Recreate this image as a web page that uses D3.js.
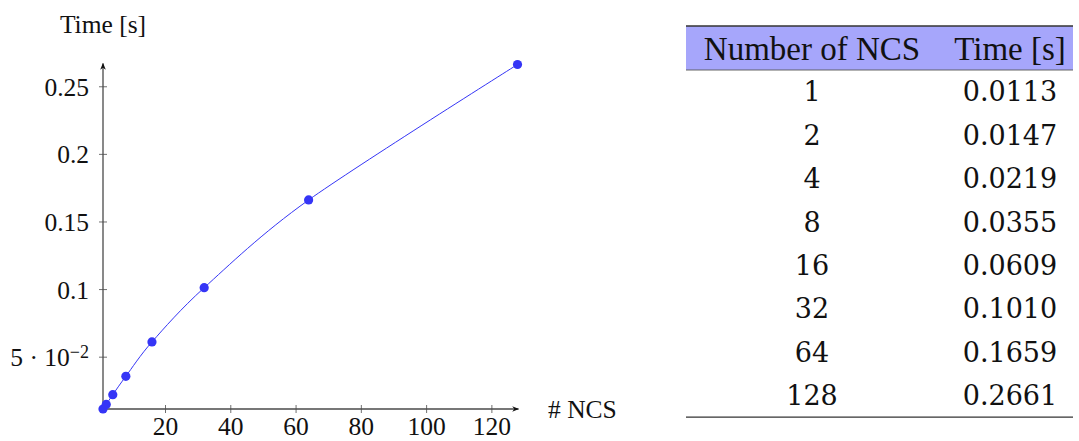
<!DOCTYPE html>
<html><head><meta charset="utf-8">
<script src="https://cdn.jsdelivr.net/npm/d3@7"></script>
<style>body{margin:0;background:#fff}svg{display:block}</style>
</head><body>
<svg id="c" width="1079" height="441"></svg>
<script>
const ncs = [1, 2, 4, 8, 16, 32, 64, 128];
const times = [0.0113, 0.0147, 0.0219, 0.0355, 0.0609, 0.1010, 0.1659, 0.2661];
const timeLabels = ["0.0113","0.0147","0.0219","0.0355","0.0609","0.1010","0.1659","0.2661"];
const xTicks = [20, 40, 60, 80, 100, 120];
const yTicks = [0.05, 0.1, 0.15, 0.2, 0.25];
const yTickLabels = ["5 · 10", "0.1", "0.15", "0.2", "0.25"];
const tableHeaders = ["Number of NCS", "Time [s]"];

const svg = d3.select("#c");
const serif = "'Liberation Serif', serif";
const axisCol = "#4a4a4a";
const blue = "#3535f6";

const x = d3.scaleLinear().domain([1, 128]).range([103, 517.5]);
const y = d3.scaleLinear().domain([0.0113, 0.2661]).range([409, 64.5]);

svg.append("defs").append("marker")
  .attr("id", "arr").attr("viewBox", "0 0 10 10").attr("refX", 9).attr("refY", 5)
  .attr("markerWidth", 7).attr("markerHeight", 7).attr("markerUnits", "userSpaceOnUse")
  .attr("orient", "auto")
  .append("path").attr("d", "M0,1 L10,5 L0,9 L3,5 Z").attr("fill", "#111");

// x axis
const gx = svg.append("g").attr("transform", `translate(0,${y.range()[0]})`)
  .call(d3.axisBottom(x).tickValues(xTicks).tickSize(4).tickFormat(d3.format("d")));
gx.select(".domain").remove();
gx.selectAll(".tick line").attr("y1", -4).attr("y2", 4).attr("stroke", axisCol).attr("stroke-width", 0.8);
gx.selectAll(".tick text").attr("y", 26).attr("dy", "0")
  .attr("font-family", serif).attr("font-size", 25.5).attr("fill", "#111");
svg.append("line").attr("x1", x.range()[0]).attr("x2", x.range()[1] + 1)
  .attr("y1", y.range()[0]).attr("y2", y.range()[0])
  .attr("stroke", axisCol).attr("stroke-width", 1.3).attr("marker-end", "url(#arr)");

// y axis
const gy = svg.append("g").attr("transform", `translate(${x.range()[0]},0)`)
  .call(d3.axisLeft(y).tickValues(yTicks).tickSize(4).tickFormat(() => ""));
gy.select(".domain").remove();
gy.selectAll(".tick line").attr("x1", -4).attr("x2", 4).attr("stroke", axisCol).attr("stroke-width", 0.8);
gy.selectAll(".tick text").remove();
gy.selectAll(".tick").each(function(d, i) {
  const t = d3.select(this).append("text")
    .attr("x", -14).attr("dy", "0.35em").attr("text-anchor", "end")
    .attr("font-family", serif).attr("font-size", 25.5).attr("fill", "#111")
    .style("white-space", "pre");
  if (i === 0) {
    t.append("tspan").text(yTickLabels[i]);
    t.append("tspan").attr("dy", "-0.45em").attr("font-size", 18).text("−2");
  } else {
    t.text(yTickLabels[i]);
  }
});
svg.append("line").attr("x1", x.range()[0]).attr("x2", x.range()[0])
  .attr("y1", y.range()[0]).attr("y2", y.range()[1] - 1)
  .attr("stroke", axisCol).attr("stroke-width", 1.3).attr("marker-end", "url(#arr)");

// axis titles
svg.append("text").attr("x", 103).attr("y", 33).attr("text-anchor", "middle")
  .attr("font-family", serif).attr("font-size", 25.5).attr("fill", "#111").text("Time [s]");
svg.append("text").attr("x", 548).attr("y", 418)
  .attr("font-family", serif).attr("font-size", 25.5).attr("fill", "#111").text("# NCS");

// line + markers
const pts = ncs.map((n, i) => [n, times[i]]);
svg.append("path").datum(pts)
  .attr("d", d3.line().x(d => x(d[0])).y(d => y(d[1])).curve(d3.curveCardinal.tension(0.1)))
  .attr("fill", "none").attr("stroke", blue).attr("stroke-width", 1);
svg.append("g").selectAll("circle").data(pts).join("circle")
  .attr("cx", d => x(d[0])).attr("cy", d => y(d[1])).attr("r", 4.6)
  .attr("fill", blue);

// table
const tx0 = 686, tx1 = 1073, col1 = 812, col2 = 1010;
const headTop = 26, headBot = 70, rowH = 43.4;
svg.append("rect").attr("x", tx0).attr("y", headTop).attr("width", tx1 - tx0).attr("height", headBot - headTop)
  .attr("fill", "#a6a6fb");
svg.append("line").attr("x1", tx0).attr("x2", tx1).attr("y1", headTop).attr("y2", headTop)
  .attr("stroke", "#333").attr("stroke-width", 1.3);
svg.append("line").attr("x1", tx0).attr("x2", tx1).attr("y1", headBot).attr("y2", headBot)
  .attr("stroke", "#555").attr("stroke-width", 0.9);
[col1, col2].forEach((cx, i) => {
  svg.append("text").attr("x", cx).attr("y", (headTop + headBot) / 2).attr("dy", "0.35em")
    .attr("text-anchor", "middle").attr("font-family", serif).attr("font-size", 33)
    .attr("fill", "#111").text(tableHeaders[i]);
});
const rows = svg.append("g").selectAll("g").data(ncs).join("g")
  .attr("transform", (d, i) => `translate(0,${headBot + rowH * (i + 0.5)})`);
rows.append("text").attr("x", col1).attr("dy", "0.36em").attr("text-anchor", "middle")
  .attr("font-family", "'DejaVu Serif', serif").attr("font-size", 27).attr("fill", "#111").text(d => d);
rows.append("text").attr("x", col2).attr("dy", "0.36em").attr("text-anchor", "middle")
  .attr("font-family", "'DejaVu Serif', serif").attr("font-size", 27).attr("fill", "#111").text((d, i) => timeLabels[i]);
const botY = headBot + rowH * ncs.length;
svg.append("line").attr("x1", tx0).attr("x2", tx1).attr("y1", botY).attr("y2", botY)
  .attr("stroke", "#333").attr("stroke-width", 1.3);
</script>
</body></html>
